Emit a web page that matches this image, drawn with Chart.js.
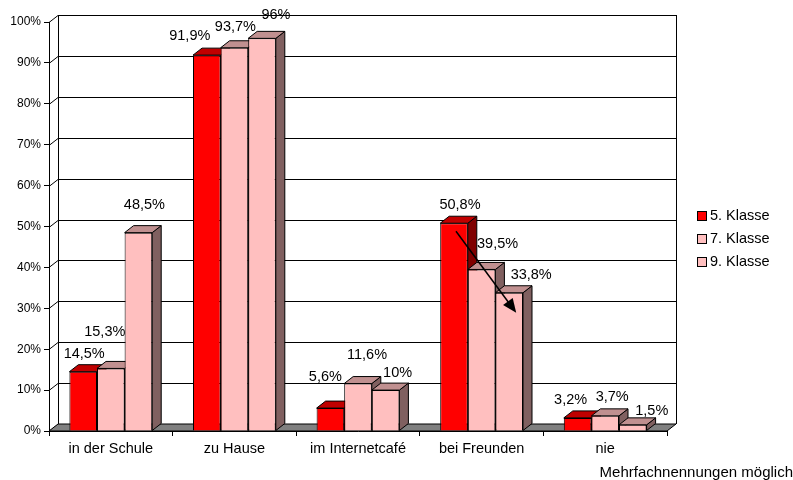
<!DOCTYPE html>
<html>
<head>
<meta charset="utf-8">
<script src="https://cdn.jsdelivr.net/npm/chart.js@4"></script>
<style>
html, body { margin: 0; padding: 0; background: #fff; }
#wrap { width: 793px; height: 480px; position: relative; }
</style>
</head>
<body>
<div id="wrap"><canvas id="myChart"></canvas></div>
<script>
// data
const categories = ['in der Schule', 'zu Hause', 'im Internetcafé', 'bei Freunden', 'nie'];
const seriesNames = ['5. Klasse', '7. Klasse', '9. Klasse'];
const klasse5 = [14.5, 91.9, 5.6, 50.8, 3.2];
const klasse7 = [15.3, 93.7, 11.6, 39.5, 3.7];
const klasse9 = [48.5, 96, 10, 33.8, 1.5];
const footnote = 'Mehrfachnennungen möglich';

// label nudges (px) so the value labels sit like in the original
const labelDX = [[1, -17, -5, 6, -7], [-6, 1, 9, 16, 7], [6, 14, 12, 22, 19]];
const labelDY = [[-18, -19, -31, -18, -18], [-36, -21, -29, -25, -19], [-28, -23, -17, -18, -14]];

const DX = 9, DY = 7;
const FONT = 'Arial, "Liberation Sans", sans-serif';
Chart.defaults.font.family = FONT;
Chart.defaults.color = '#000';

function poly(ctx, pts, fill) {
    ctx.beginPath();
    ctx.moveTo(pts[0][0], pts[0][1]);
    for (let k = 1; k < pts.length; k++) ctx.lineTo(pts[k][0], pts[k][1]);
    ctx.closePath();
    if (fill) { ctx.fillStyle = fill; ctx.fill(); }
    ctx.stroke();
}

const threeD = {
    id: 'threeD',
    beforeDatasetsDraw(chart) {
        const ctx = chart.ctx;
        const { left, right, top, bottom } = chart.chartArea;
        const y = chart.scales.y;
        ctx.save();
        ctx.strokeStyle = '#000';
        ctx.lineWidth = 1;
        // back wall + side wall grid
        y.ticks.forEach(t => {
            const yy = Math.round(y.getPixelForValue(t.value)) + 0.5;
            ctx.beginPath();
            ctx.moveTo(left, yy);
            ctx.lineTo(left + DX, yy - DY);
            ctx.lineTo(right + DX, yy - DY);
            ctx.stroke();
        });
        ctx.beginPath();
        ctx.moveTo(left + DX + 0.5, top - DY);
        ctx.lineTo(left + DX + 0.5, bottom - DY);
        ctx.moveTo(right + DX + 0.5, top - DY);
        ctx.lineTo(right + DX + 0.5, bottom - DY);
        ctx.stroke();
        // floor
        poly(ctx, [[left, bottom], [right, bottom], [right + DX, bottom - DY], [left + DX, bottom - DY]], '#808080');
        // bar tops and sides, left to right
        const n = chart.data.labels.length;
        for (let i = 0; i < n; i++) {
            chart.data.datasets.forEach((ds, d) => {
                const bar = chart.getDatasetMeta(d).data[i];
                const x0 = bar.x - bar.width / 2, x1 = bar.x + bar.width / 2;
                const yt = bar.y, yb = bar.base;
                poly(ctx, [[x1, yt], [x1 + DX, yt - DY], [x1 + DX, yb - DY], [x1, yb]], ds.sideColor);
                poly(ctx, [[x0, yt], [x0 + DX, yt - DY], [x1 + DX, yt - DY], [x1, yt]], ds.topColor);
            });
        }
        ctx.restore();
    },
    afterDatasetsDraw(chart) {
        const ctx = chart.ctx;
        ctx.save();
        ctx.fillStyle = '#000';
        ctx.font = '14.5px ' + FONT;
        ctx.textAlign = 'center';
        ctx.textBaseline = 'middle';
        chart.data.datasets.forEach((ds, d) => {
            chart.getDatasetMeta(d).data.forEach((bar, i) => {
                const txt = String(ds.data[i]).replace('.', ',') + '%';
                ctx.fillText(txt, bar.x + labelDX[d][i], bar.y + labelDY[d][i]);
            });
        });
        // arrow: 5. Klasse -> 9. Klasse at "bei Freunden"
        const a = chart.getDatasetMeta(0).data[3], b = chart.getDatasetMeta(2).data[3];
        const sx = a.x + 2, sy = a.y + 8, ex = b.x + 7, ey = b.y + 20;
        const ang = Math.atan2(ey - sy, ex - sx);
        ctx.strokeStyle = '#000';
        ctx.lineWidth = 1.5;
        ctx.beginPath();
        ctx.moveTo(sx, sy);
        ctx.lineTo(ex - 10 * Math.cos(ang), ey - 10 * Math.sin(ang));
        ctx.stroke();
        ctx.beginPath();
        ctx.moveTo(ex, ey);
        ctx.lineTo(ex - 14 * Math.cos(ang) + 6 * Math.sin(ang), ey - 14 * Math.sin(ang) - 6 * Math.cos(ang));
        ctx.lineTo(ex - 14 * Math.cos(ang) - 6 * Math.sin(ang), ey - 14 * Math.sin(ang) + 6 * Math.cos(ang));
        ctx.closePath();
        ctx.fill();
        ctx.restore();
    },
    afterDraw(chart) {
        const ctx = chart.ctx;
        ctx.save();
        ctx.font = '14.5px ' + FONT;
        ctx.textBaseline = 'middle';
        ctx.textAlign = 'left';
        ctx.strokeStyle = '#000';
        ctx.lineWidth = 1;
        chart.data.datasets.forEach((ds, d) => {
            const cy = 216 + d * 23;
            ctx.fillStyle = ds.backgroundColor;
            ctx.fillRect(697.5, cy - 4.5, 9, 9);
            ctx.strokeRect(697.5, cy - 4.5, 9, 9);
            ctx.fillStyle = '#000';
            ctx.fillText(ds.label, 710, cy);
        });
        ctx.font = '15px ' + FONT;
        ctx.textAlign = 'right';
        ctx.fillText(footnote, 793, 473);
        ctx.restore();
    }
};

const ctx = document.getElementById('myChart').getContext('2d');
const chart = new Chart(ctx, {
    type: 'bar',
    data: {
        labels: categories,
        datasets: [
            { label: seriesNames[0], data: klasse5, backgroundColor: '#FF0000', topColor: '#C00000', sideColor: '#800000', borderColor: '#000', borderWidth: 1 },
            { label: seriesNames[1], data: klasse7, backgroundColor: '#FFBFBF', topColor: '#C09090', sideColor: '#806060', borderColor: '#000', borderWidth: 1 },
            { label: seriesNames[2], data: klasse9, backgroundColor: '#FFBFBF', topColor: '#C09090', sideColor: '#806060', borderColor: '#000', borderWidth: 1 }
        ]
    },
    options: {
        responsive: true,
        maintainAspectRatio: false,
        animation: false,
        categoryPercentage: 0.67,
        barPercentage: 1,
        layout: { padding: { left: 0, right: 126, top: 22, bottom: 0 } },
        plugins: {
            legend: { display: false },
            tooltip: { enabled: false }
        },
        scales: {
            x: {
                grid: { drawOnChartArea: false, tickLength: 5, color: '#000' },
                border: { color: '#000' },
                ticks: { font: { size: 14.5 }, color: '#000', padding: 4, maxRotation: 0 },
                afterFit(s) { s.height = 49; }
            },
            y: {
                min: 0,
                max: 100,
                grid: { drawOnChartArea: false, tickLength: 5, color: '#000' },
                border: { color: '#000' },
                ticks: { stepSize: 10, font: { size: 12 }, color: '#000', padding: 3, callback: v => v + '%' },
                afterFit(s) { s.width = 49; }
            }
        }
    },
    plugins: [threeD]
});
</script>
</body>
</html>
